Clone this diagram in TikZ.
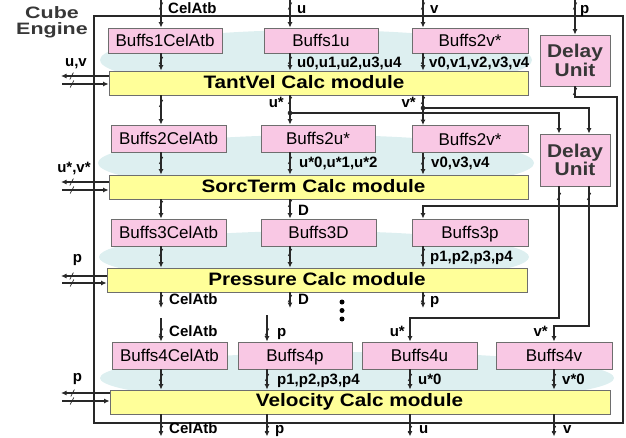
\documentclass[tikz,border=0pt]{standalone}
\usepackage{fontspec}
\setmainfont{Liberation Sans}
\usetikzlibrary{arrows.meta,decorations.markings}

\definecolor{pinkfill}{RGB}{249,200,228}
\definecolor{yellowfill}{RGB}{255,255,153}
\definecolor{blobfill}{RGB}{221,239,240}
\definecolor{edgegray}{RGB}{110,110,110}
\definecolor{wirecol}{RGB}{40,40,40}
\definecolor{headtext}{RGB}{55,55,55}

\newcommand{\modlabel}[1]{\scalebox{1.15}[1]{\bfseries\fontsize{18}{18}\selectfont #1}}
\newcommand{\headword}[1]{\scalebox{1.3}[1]{#1}}
\newcommand{\dutext}{\scalebox{1.13}[1]{Delay}\\\scalebox{1.13}[1]{Unit}}

\begin{document}
\begin{tikzpicture}[x=1pt,y=-1pt,
  buf/.style={draw=edgegray, fill=pinkfill, line width=0.8pt, inner sep=0pt,
    minimum height=26pt, text depth=0pt, font=\fontsize{17}{17}\selectfont},
  module/.style={draw=edgegray, fill=yellowfill, line width=0.8pt, inner sep=0pt,
    minimum height=24pt},
  modtext/.style={inner sep=0pt, anchor=base},
  delay/.style={draw=edgegray, fill=pinkfill, line width=0.8pt, inner sep=0pt,
    minimum width=70pt, align=center, text=headtext,
    font=\bfseries\fontsize{18.5}{13.5}\selectfont},
  lbl/.style={inner sep=0pt, anchor=base west, font=\bfseries\fontsize{15}{15}\selectfont},
  lble/.style={lbl, anchor=base east},
  lblc/.style={lbl, anchor=base},
  wire/.style={draw=wirecol, line width=1.1pt},
  arr/.style={-{Latex[length=5.5pt,width=5pt]}},
  wtick/.style={postaction={decorate, decoration={markings,
    mark=at position #1 with {\pgftransformresetnontranslations
      \draw[-, wirecol, line width=0.7pt] (-1.8pt,-3.5pt) -- (1.8pt,3.5pt);}}}},
  blob/.style={fill=blobfill, draw=none}
]
\useasboundingbox (0,0) rectangle (626,437);

% soft background bands behind each stage
\fill[blob] (316,60) ellipse [x radius=216, y radius=30];
\fill[blob] (316,163) ellipse [x radius=218, y radius=28];
\fill[blob] (314,257) ellipse [x radius=215, y radius=26];
\fill[blob] (357,378) ellipse [x radius=257, y radius=26];

% engine outline and title
\draw[wirecol, line width=1.3pt] (94,16) rectangle (623,423);
\node[inner sep=0pt, align=center, text=headtext,
  font=\bfseries\fontsize{16.5}{16}\selectfont] (title) at (52,22)
  {\headword{Cube}\\\headword{Engine}};

% stage 1
\node[buf, minimum width=114pt, minimum height=25pt] (b1c) at (165,40.5) {Buffs1CelAtb};
\node[buf, minimum width=114pt, minimum height=25pt] (b1u) at (321,40.5) {Buffs1u};
\node[buf, minimum width=116pt, minimum height=25pt] (b1v) at (470,40.5) {Buffs2v*};
\node[delay, minimum height=51pt] (du1) at (575,60.5) {\dutext};
\node[module, minimum width=419pt] (m1) at (318.5,83) {};
\node[modtext] (m1t) at (304,88) {\modlabel{TantVel Calc module}};

% stage 2
\node[buf, minimum width=115pt, minimum height=27pt] (b2c) at (168.5,138.5) {Buffs2CelAtb};
\node[buf, minimum width=114pt, minimum height=27pt] (b2u) at (318,138.5) {Buffs2u*};
\node[buf, minimum width=116pt, minimum height=27pt] (b2v) at (470,139) {Buffs2v*};
\node[delay, minimum height=52pt] (du2) at (575,160) {\dutext};
\node[module, minimum width=419pt] (m2) at (318.5,187) {};
\node[modtext] (m2t) at (313.5,192.5) {\modlabel{SorcTerm Calc module}};

% stage 3
\node[buf, minimum width=115pt, minimum height=27pt] (b3c) at (168.5,232.5) {Buffs3CelAtb};
\node[buf, minimum width=115pt, minimum height=27pt] (b3d) at (318.5,232.5) {Buffs3D};
\node[buf, minimum width=116pt, minimum height=27pt] (b3p) at (470,232.5) {Buffs3p};
\node[module, minimum width=420pt] (m3) at (317,280) {};
\node[modtext] (m3t) at (317,285) {\modlabel{Pressure Calc module}};

% stage 4
\node[buf, minimum width=115pt, minimum height=27pt] (b4c) at (169.5,355.5) {Buffs4CelAtb};
\node[buf, minimum width=114pt, minimum height=27pt] (b4p) at (295,355.5) {Buffs4p};
\node[buf, minimum width=115pt, minimum height=27pt] (b4u) at (419.5,355.5) {Buffs4u};
\node[buf, minimum width=116pt, minimum height=27pt] (b4v) at (554,355.5) {Buffs4v};
\node[module, minimum width=500pt] (m4) at (360,402) {};
\node[modtext] (m4t) at (359.5,406.5) {\modlabel{Velocity Calc module}};

% column positions
\coordinate (tCel) at (161,0);
\coordinate (tU) at (290,0);
\coordinate (tV) at (423,0);
\coordinate (tP) at (575,0);
\coordinate (dA) at (559,0);
\coordinate (dB) at (589,0);

% inputs from the top
\draw[wire,arr,wtick=6pt] (tCel) -- (b1c.north -| tCel);
\draw[wire,arr,wtick=6pt] (tU) -- (b1u.north -| tU);
\draw[wire,arr,wtick=6pt] (tV) -- (b1v.north -| tV);
\draw[wire,arr,wtick=6pt] (tP) -- (du1.north);
\node[lbl] (lt1) at (168,13) {CelAtb};
\node[lbl] (lt2) at (297,13) {u};
\node[lbl] (lt3) at (430,13) {v};
\node[lbl] (lt4) at (580,13) {p};

% stage 1 buffers to module
\draw[wire,arr,wtick=7pt] (b1c.south -| tCel) -- (m1.north -| tCel);
\draw[wire,arr,wtick=7pt] (b1u.south -| tU) -- (m1.north -| tU);
\draw[wire,arr,wtick=7pt] (b1v.south -| tV) -- (m1.north -| tV);
\node[lbl] (l1u) at (297,67) {u0,u1,u2,u3,u4};
\node[lbl] (l1v) at (429,67) {v0,v1,v2,v3,v4};

% stage 1 side ports
\coordinate (o1) at (61,76);
\coordinate (i1) at (62,84);
\draw[wire,arr,wtick=37pt] (m1.west |- o1) -- (o1);
\draw[wire,arr,wtick=10pt] (i1) -- (m1.west |- i1);
\node[lblc] (s1lab) at (76,66) {u,v};

% stage 1 outputs
\draw[wire,arr,wtick=8pt] (m1.south -| tCel) -- (b2c.north -| tCel);
\draw[wire,arr,wtick=5pt] (m1.south -| tU) -- (b2u.north -| tU);
\draw[wire,arr,wtick=5pt] (m1.south -| tV) -- (b2v.north -| tV);
\node[lble] (lus) at (284,107) {u*};
\node[lble] (lvs) at (416,107) {v*};
\coordinate (us) at (290,113);
\coordinate (vs) at (423,108);
\draw[wire,arr] (us) -- (us -| dA) -- (du2.north -| dA);
\draw[wire,arr] (vs) -- (vs -| dB) -- (du2.north -| dB);
\fill[wirecol] (us) circle (2.3pt);
\fill[wirecol] (vs) circle (2.3pt);

% first delay unit feeds the pressure buffer
\coordinate (r1) at (617,97);
\coordinate (r2) at (617,206);
\draw[wire,arr,wtick=5pt] (du1.south) -- (du1.south |- r1) -- (r1) -- (r2) -- (r2 -| tV) -- (b3p.north -| tV);

% stage 2 buffers to module
\draw[wire,arr,wtick=8pt] (b2c.south -| tCel) -- (m2.north -| tCel);
\draw[wire,arr,wtick=8pt] (b2u.south -| tU) -- (m2.north -| tU);
\draw[wire,arr,wtick=8pt] (b2v.south -| tV) -- (m2.north -| tV);
\node[lbl] (l2u) at (299,167) {u*0,u*1,u*2};
\node[lbl] (l2v) at (431,167) {v0,v3,v4};

% stage 2 side ports
\coordinate (o2) at (61,182);
\coordinate (i2) at (62,190);
\draw[wire,arr,wtick=37pt] (m2.west |- o2) -- (o2);
\draw[wire,arr,wtick=10pt] (i2) -- (m2.west |- i2);
\node[lblc] (s2lab) at (74,172) {u*,v*};

% stage 2 outputs
\draw[wire,arr,wtick=5pt] (m2.south -| tCel) -- (b3c.north -| tCel);
\draw[wire,arr,wtick=4pt] (m2.south -| tU) -- (b3d.north -| tU);
\node[lbl] (ld) at (298,215) {D};

% second delay unit feeds the velocity buffers
\coordinate (s1) at (410,318);
\coordinate (s2) at (554,326);
\draw[wire,arr,wtick=10pt] (du2.south -| dA) -- (dA |- s1) -- (s1) -- (b4u.north -| s1);
\draw[wire,arr,wtick=10pt] (du2.south -| dB) -- (dB |- s2) -- (s2) -- (b4v.north -| s2);
\node[lble] (l4us) at (405,336) {u*};
\node[lble] (l4vs) at (548,336) {v*};

% stage 3 buffers to module
\draw[wire,arr,wtick=6pt] (b3c.south -| tCel) -- (m3.north -| tCel);
\draw[wire,arr,wtick=6pt] (b3d.south -| tU) -- (m3.north -| tU);
\draw[wire,arr,wtick=6pt] (b3p.south -| tV) -- (m3.north -| tV);
\node[lbl] (l3p) at (430,261) {p1,p2,p3,p4};

% stage 3 side ports
\coordinate (o3) at (61,276);
\coordinate (i3) at (62,283);
\draw[wire,arr,wtick=35pt] (m3.west |- o3) -- (o3);
\draw[wire,arr,wtick=10pt] (i3) -- (m3.west |- i3);
\node[lblc] (s3lab) at (77.5,262) {p};

% stage 3 outputs
\coordinate (e3) at (0,308);
\draw[wire,arr,wtick=6pt] (m3.south -| tCel) -- (tCel |- e3);
\draw[wire,arr,wtick=6pt] (m3.south -| tU) -- (tU |- e3);
\draw[wire,arr,wtick=6pt] (m3.south -| tV) -- (tV |- e3);
\node[lbl] (l3o1) at (169,304) {CelAtb};
\node[lbl] (l3o2) at (298,304) {D};
\node[lbl] (l3o3) at (430,304) {p};

% stages in between
\fill[black] (342,302) circle (2.5pt);
\fill[black] (342,310.5) circle (2.5pt);
\fill[black] (342,319) circle (2.5pt);

% stage 4 inputs
\coordinate (f1) at (161,318);
\coordinate (f2) at (267,315);
\draw[wire,arr,wtick=14pt] (f1) -- (b4c.north -| f1);
\draw[wire,arr,wtick=17pt] (f2) -- (b4p.north -| f2);
\node[lbl] (l4c) at (169,336) {CelAtb};
\node[lbl] (l4p) at (277,336) {p};

% stage 4 buffers to module
\draw[wire,arr,wtick=8pt] (b4c.south -| f1) -- (m4.north -| f1);
\draw[wire,arr,wtick=8pt] (b4p.south -| f2) -- (m4.north -| f2);
\draw[wire,arr,wtick=8pt] (b4u.south -| s1) -- (m4.north -| s1);
\draw[wire,arr,wtick=8pt] (b4v.south -| s2) -- (m4.north -| s2);
\node[lbl] (l4pp) at (277,384) {p1,p2,p3,p4};
\node[lbl] (l4u0) at (418,384) {u*0};
\node[lbl] (l4v0) at (562,384) {v*0};

% stage 4 side ports
\coordinate (o4) at (61,393);
\coordinate (i4) at (62,401);
\draw[wire,arr,wtick=37pt] (m4.west |- o4) -- (o4);
\draw[wire,arr,wtick=10pt] (i4) -- (m4.west |- i4);
\node[lblc] (s4lab) at (77.5,381) {p};

% final outputs
\coordinate (g) at (0,436.5);
\draw[wire,arr,wtick=15pt] (m4.south -| f1) -- (f1 |- g);
\draw[wire,arr,wtick=15pt] (m4.south -| f2) -- (f2 |- g);
\draw[wire,arr,wtick=15pt] (m4.south -| s1) -- (s1 |- g);
\draw[wire,arr,wtick=15pt] (m4.south -| s2) -- (s2 |- g);
\node[lbl] (lo1) at (169,433) {CelAtb};
\node[lbl] (lo2) at (275,433) {p};
\node[lbl] (lo3) at (419,433) {u};
\node[lbl] (lo4) at (563,433) {v};
\end{tikzpicture}
\end{document}
